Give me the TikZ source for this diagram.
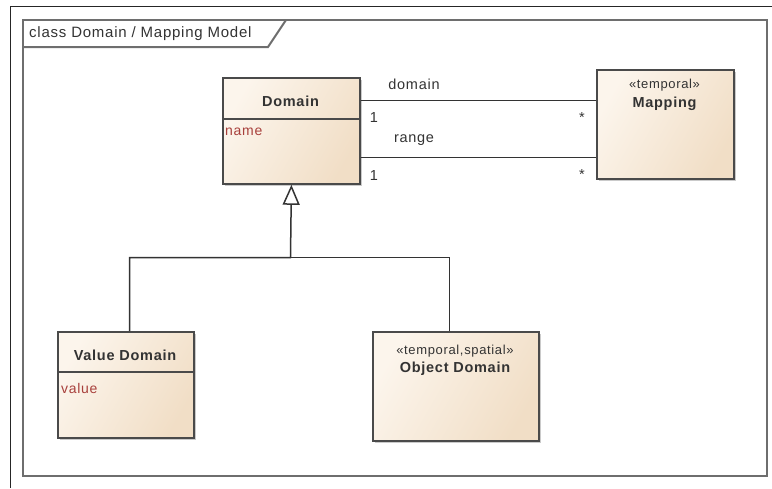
\documentclass[tikz,border=0pt]{standalone}
\usepackage{fontspec}
\setmainfont{Liberation Sans}
\newfontfamily\diagfont[LetterSpace=5]{Liberation Sans}
\usetikzlibrary{arrows.meta,shadows,calc}
\definecolor{frameline}{HTML}{6E6E6E}
\definecolor{boxline}{HTML}{4A4A4A}
\definecolor{ink}{HTML}{333333}
\definecolor{attr}{HTML}{A8403C}
\definecolor{fillA}{HTML}{FCF5EC}
\definecolor{fillB}{HTML}{F1DEC6}
\tikzset{
  classbox/.style={draw=boxline, line width=1.8pt, rectangle, inner sep=0pt,
    shading=axis, left color=fillA, right color=fillB, shading angle=60,
    drop shadow={shadow xshift=2.5pt, shadow yshift=-2.5pt, fill=black!35, opacity=0.6},
    anchor=north west},
  cname/.style={font=\diagfont\fontsize{14.5}{16}\selectfont\bfseries, text=ink, inner sep=0pt},
  stereo/.style={font=\diagfont\fontsize{13}{15}\selectfont, text=ink, inner sep=0pt},
  attrtext/.style={font=\diagfont\fontsize{14}{16}\selectfont, text=attr, inner sep=0pt, anchor=west},
  lbl/.style={font=\diagfont\fontsize{14.5}{16}\selectfont, text=ink, inner sep=0pt},
  conn/.style={draw=ink, line width=1.5pt},
  divider/.style={draw=boxline, line width=1.6pt}
}
\begin{document}
\begin{tikzpicture}[x=1pt,y=-1pt]
\useasboundingbox (0,0) rectangle (772,488);
% outer page border
\draw[black!85, line width=0.8pt] (10,488) -- (10,6) -- (772,6);
% diagram frame with name tab
\draw[frameline, line width=2pt] (23,20) rectangle (767,476);
\draw[frameline, line width=2pt] (23,47) -- (268,47) -- (286,20);
\node[font=\diagfont\fontsize{15}{17}\selectfont, text=ink, anchor=west, inner sep=0pt] (title) at (29,34) {class Domain / Mapping Model};

% classes
\node[classbox, minimum width=137pt, minimum height=106pt] (domain) at (222,77) {};
\draw[divider] (222,119) -- (359,119);
\node[cname] (domainname) at (290.5,101) {Domain};
\node[attrtext] (domainattr) at (225,132) {name};

\node[classbox, minimum width=137pt, minimum height=109pt] (mapping) at (596,69) {};
\node[stereo] (mapst) at (664.5,85) {«temporal»};
\node[cname] (mapname) at (664.5,104) {Mapping};

\node[classbox, minimum width=136pt, minimum height=106pt] (valdom) at (57,331) {};
\draw[divider] (57,372) -- (193,372);
\node[cname] (valname) at (125,355) {Value Domain};
\node[attrtext] (valattr) at (61,388) {value};

\node[classbox, minimum width=166pt, minimum height=109pt] (objdom) at (372,331) {};
\node[stereo] (objst) at (455,351) {«temporal,spatial»};
\node[cname] (objname) at (455,369) {Object Domain};

% associations
\coordinate (rowA) at (0,100.5);
\coordinate (rowB) at (0,157.5);
\draw[conn] (domain.east |- rowA) -- (mapping.west |- rowA);
\draw[conn] (domain.east |- rowB) -- (mapping.west |- rowB);
\node[lbl] (roleA) at (414,84) {domain};
\node[lbl] (roleB) at (414,140) {range};
\node[lbl] (mA1) at (374,118) {1};
\node[lbl] (mB1) at (374,176) {1};
\node[lbl] (mA2) at (582,118) {*};
\node[lbl] (mB2) at (582,175) {*};

% generalization
\coordinate (junction) at (290.5,257.5);
\coordinate (valtop) at (129.5,331);
\coordinate (objtop) at (449.5,331);
\draw[conn, -{Triangle[open, length=20pt, width=17pt, line width=1.5pt]}] (valtop) |- (junction) -- (domain.south);
\draw[conn] (objtop) |- (junction);
\end{tikzpicture}
\end{document}
